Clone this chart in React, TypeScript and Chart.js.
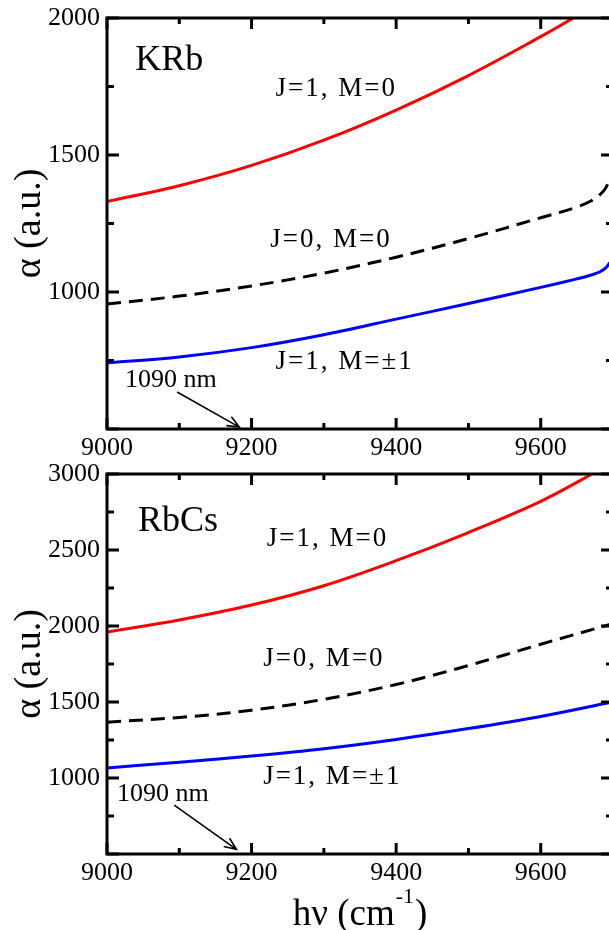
import React, { useEffect, useRef } from 'react';
import { Chart, registerables } from 'chart.js';

Chart.register(...registerables);

const FONT = '"Liberation Serif", "Times New Roman", serif';

// ---- shared axis ticks ----
const xMin = 9000;
const xMax = 9700;
const xStep = 200;
const xMinorTicks = [9100, 9300, 9500, 9700];

// ---- KRb panel data ----
const krbRedX = [9000, 9100, 9200, 9300, 9400, 9500, 9600, 9645, 9700];
const krbJ1M0 = [1330, 1388, 1462, 1554, 1664, 1790, 1932, 2000, 2088];
const krbX = [9000, 9100, 9200, 9300, 9400, 9500, 9600, 9650, 9670, 9682, 9690, 9697];
const krbJ0M0 = [956, 985, 1022, 1069, 1127, 1195, 1271, 1310, 1333, 1355, 1380, 1425];
const krbJ1M1 = [741, 763, 797, 844, 901, 958, 1017, 1048, 1062, 1074, 1088, 1112];
const krbYMinor = [750, 1250, 1750];

// ---- RbCs panel data ----
const rbcsRedX = [9000, 9100, 9200, 9300, 9400, 9500, 9600, 9671, 9700];
const rbcsJ1M0 = [1961, 2040, 2138, 2265, 2430, 2615, 2820, 3000, 3080];
const rbcsX = [9000, 9100, 9200, 9300, 9400, 9500, 9600, 9697];
const rbcsJ0M0 = [1367, 1398, 1446, 1518, 1615, 1740, 1880, 2012];
const rbcsJ1M1 = [1066, 1104, 1145, 1193, 1254, 1325, 1405, 1498];
const rbcsYMinor = [750, 1250, 1750, 2250, 2750];

type Series = { label: string; xs: number[]; ys: number[]; color: string; dash?: number[] };
type Note = { text: string; x: number; y: number; size: number; spacing: number };
type Arrow = { x1: number; y1: number; x2: number; y2: number };
type Panel = {
  yMin: number; yMax: number; yMinor: number[];
  series: Series[]; notes: Note[]; arrow: Arrow;
  canvasTop: number; canvasHeight: number; padTop: number; xAxisHeight: number; xTitle: boolean;
};

const panels: Panel[] = [
  {
    yMin: 500, yMax: 2000, yMinor: krbYMinor,
    series: [
      { label: 'J=1, M=0', xs: krbRedX, ys: krbJ1M0, color: '#ff0000' },
      { label: 'J=0, M=0', xs: krbX, ys: krbJ0M0, color: '#000000', dash: [14, 8] },
      { label: 'J=1, M=±1', xs: krbX, ys: krbJ1M1, color: '#0000ff' },
    ],
    notes: [
      { text: 'KRb', x: 9039, y: 1811, size: 36, spacing: 0 },
      { text: 'J=1, M=0', x: 9233, y: 1714, size: 27, spacing: 2 },
      { text: 'J=0, M=0', x: 9226, y: 1166, size: 27, spacing: 2 },
      { text: 'J=1, M=±1', x: 9233, y: 720, size: 27, spacing: 2 },
      { text: '1090 nm', x: 9025, y: 654, size: 26, spacing: 0 },
    ],
    arrow: { x1: 9097, y1: 635, x2: 9183, y2: 507 },
    canvasTop: 0, canvasHeight: 465, padTop: 18, xAxisHeight: 36, xTitle: false,
  },
  {
    yMin: 500, yMax: 3000, yMinor: rbcsYMinor,
    series: [
      { label: 'J=1, M=0', xs: rbcsRedX, ys: rbcsJ1M0, color: '#ff0000' },
      { label: 'J=0, M=0', xs: rbcsX, ys: rbcsJ0M0, color: '#000000', dash: [14, 8] },
      { label: 'J=1, M=±1', xs: rbcsX, ys: rbcsJ1M1, color: '#0000ff' },
    ],
    notes: [
      { text: 'RbCs', x: 9043, y: 2622, size: 36, spacing: 0 },
      { text: 'J=1, M=0', x: 9221, y: 2524, size: 27, spacing: 2 },
      { text: 'J=0, M=0', x: 9216, y: 1738, size: 27, spacing: 2 },
      { text: 'J=1, M=±1', x: 9216, y: 963, size: 27, spacing: 2 },
      { text: '1090 nm', x: 9014, y: 851, size: 26, spacing: 0 },
    ],
    arrow: { x1: 9093, y1: 821, x2: 9179, y2: 531 },
    canvasTop: 445, canvasHeight: 485, padTop: 29, xAxisHeight: 76, xTitle: true,
  },
];

function decorPlugin(panel: Panel) {
  return {
    id: 'decor',
    afterDatasetsDraw(chart: any) {
      const { ctx, chartArea: a, scales } = chart;
      const x = scales.x;
      const y = scales.y;
      ctx.save();
      ctx.strokeStyle = '#000';
      ctx.fillStyle = '#000';
      ctx.lineCap = 'butt';
      // frame
      ctx.lineWidth = 3;
      ctx.strokeRect(a.left, a.top, a.right - a.left, a.bottom - a.top);
      // ticks
      ctx.lineWidth = 3;
      const xMajor = (x.ticks as any[]).map((t) => t.value);
      const yMajor = (y.ticks as any[]).map((t) => t.value);
      const drawX = (vals: number[], len: number) => {
        vals.forEach((v) => {
          const px = x.getPixelForValue(v);
          if (px < a.left - 1 || px > a.right + 1) return;
          ctx.beginPath();
          ctx.moveTo(px, a.bottom);
          ctx.lineTo(px, a.bottom - len);
          ctx.moveTo(px, a.top);
          ctx.lineTo(px, a.top + len);
          ctx.stroke();
        });
      };
      const drawY = (vals: number[], len: number) => {
        vals.forEach((v) => {
          const py = y.getPixelForValue(v);
          if (py < a.top - 1 || py > a.bottom + 1) return;
          ctx.beginPath();
          ctx.moveTo(a.left, py);
          ctx.lineTo(a.left + len, py);
          ctx.moveTo(a.right, py);
          ctx.lineTo(a.right - len, py);
          ctx.stroke();
        });
      };
      drawX(xMajor, 11);
      drawX(xMinorTicks, 6);
      drawY(yMajor, 12);
      drawY(panel.yMinor, 7);

      // text notes
      ctx.textAlign = 'left';
      ctx.textBaseline = 'alphabetic';
      panel.notes.forEach((n) => {
        ctx.font = `${n.size}px ${FONT}`;
        (ctx as any).letterSpacing = `${n.spacing}px`;
        ctx.fillText(n.text, x.getPixelForValue(n.x), y.getPixelForValue(n.y));
      });
      (ctx as any).letterSpacing = '0px';

      // arrow
      const ar = panel.arrow;
      const x1 = x.getPixelForValue(ar.x1);
      const y1 = y.getPixelForValue(ar.y1);
      const x2 = x.getPixelForValue(ar.x2);
      const y2 = y.getPixelForValue(ar.y2);
      ctx.lineWidth = 1.6;
      ctx.beginPath();
      ctx.moveTo(x1, y1);
      ctx.lineTo(x2, y2);
      const ang = Math.atan2(y2 - y1, x2 - x1);
      const hl = 13;
      const spread = 0.4;
      ctx.moveTo(x2 - hl * Math.cos(ang - spread), y2 - hl * Math.sin(ang - spread));
      ctx.lineTo(x2, y2);
      ctx.lineTo(x2 - hl * Math.cos(ang + spread), y2 - hl * Math.sin(ang + spread));
      ctx.stroke();

      // x axis title with superscript, centered under the plot
      if (panel.xTitle) {
        const by = a.bottom + 71;
        const main = 'hν (cm';
        ctx.font = `37px ${FONT}`;
        const w1 = ctx.measureText(main).width;
        const wClose = ctx.measureText(')').width;
        ctx.font = `22px ${FONT}`;
        const w2 = ctx.measureText('-1').width;
        const total = w1 + 1 + w2 + 1 + wClose;
        const sx = (a.left + a.right) / 2 - total / 2;
        ctx.font = `37px ${FONT}`;
        ctx.fillText(main, sx, by);
        ctx.font = `22px ${FONT}`;
        ctx.fillText('-1', sx + w1 + 1, by - 22);
        ctx.font = `37px ${FONT}`;
        ctx.fillText(')', sx + w1 + w2 + 2, by);
      }
      ctx.restore();
    },
  };
}

function PanelChart({ panel }: { panel: Panel }) {
  const ref = useRef<HTMLCanvasElement>(null);
  useEffect(() => {
    const canvas = ref.current as HTMLCanvasElement;
    const chart = new Chart(canvas, {
      type: 'line',
      data: {
        datasets: panel.series.map((s) => ({
          label: s.label,
          data: s.xs.map((xv, i) => ({ x: xv, y: s.ys[i] })),
          borderColor: s.color,
          backgroundColor: s.color,
          borderWidth: 3,
          borderDash: s.dash || [],
          pointRadius: 0,
          tension: 0.35,
          fill: false,
        })),
      },
      options: {
        animation: false,
        responsive: false,
        devicePixelRatio: 1,
        events: [],
        layout: { padding: { top: panel.padTop, right: 7, left: 0, bottom: 0 } },
        plugins: { legend: { display: false }, tooltip: { enabled: false } },
        scales: {
          x: {
            type: 'linear',
            min: xMin,
            max: xMax,
            grid: { display: false, drawTicks: false },
            border: { display: false },
            ticks: {
              stepSize: xStep,
              includeBounds: false,
              autoSkip: false,
              maxRotation: 0,
              padding: 4,
              color: '#000',
              font: { family: FONT, size: 26 },
              callback: (v: any) => String(v),
            },
            afterFit: (s: any) => {
              s.height = panel.xAxisHeight;
              s.paddingLeft = 0;
              s.paddingRight = 0;
            },
          },
          y: {
            type: 'linear',
            min: panel.yMin,
            max: panel.yMax,
            grid: { display: false, drawTicks: false },
            border: { display: false },
            ticks: {
              stepSize: 500,
              autoSkip: false,
              padding: 7,
              color: '#000',
              font: { family: FONT, size: 26 },
              callback: (v: any) => (v === panel.yMin ? '' : String(v)),
            },
            title: {
              display: true,
              text: 'α (a.u.)',
              color: '#000',
              font: { family: FONT, size: 38 },
              padding: { top: 7, bottom: 0 },
            },
            afterFit: (s: any) => {
              s.width = 107;
              s.paddingTop = 0;
              s.paddingBottom = 0;
            },
          },
        },
      } as any,
      plugins: [decorPlugin(panel)],
    });
    return () => chart.destroy();
  }, [panel]);
  return (
    <canvas
      ref={ref}
      width={620}
      height={panel.canvasHeight}
      style={{ position: 'absolute', left: 0, top: panel.canvasTop, display: 'block' }}
    />
  );
}

export default function App() {
  return (
    <div
      style={{
        position: 'fixed',
        left: 0,
        top: 0,
        width: 609,
        height: 930,
        overflow: 'hidden',
        background: '#fff',
      }}
    >
      {panels.map((p, i) => (
        <PanelChart key={i} panel={p} />
      ))}
    </div>
  );
}
